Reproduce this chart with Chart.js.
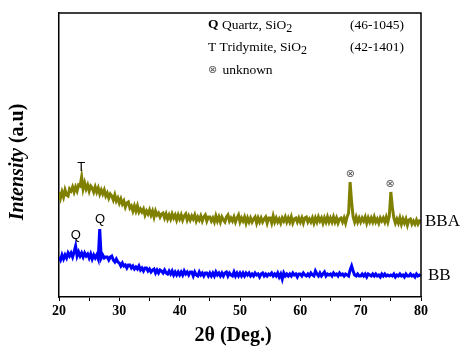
<!DOCTYPE html>
<html>
<head>
<meta charset="utf-8">
<script src="https://cdn.jsdelivr.net/npm/chart.js@4"></script>
<style>
  body { margin: 0; background: #fff; }
</style>
</head>
<body>
<canvas id="xrdChart" width="462" height="347"></canvas>
<script>
// scan grid: 2-theta from 20 to 80 deg, 0.25 deg step
const startAngle = 20
const stepAngle = 0.25

// BBA intensity (a.u.), one row = 5 deg
const bbaCounts = [
    105, 99, 105, 100, 107, 102, 101, 108, 106, 110, 105, 110, 106, 112, 111, 120, 108, 114, 108, 112,
    106, 111, 109, 105, 110, 105, 109, 103, 107, 103, 107, 101, 104, 99, 103, 101, 97, 102, 96, 99,
    94, 98, 93, 96, 90, 94, 95, 89, 91, 86, 91, 86, 91, 85, 88, 85, 88, 82, 86, 83,
    87, 82, 86, 80, 86, 82, 84, 80, 83, 84, 79, 83, 78, 82, 78, 83, 79, 82, 77, 82,
    78, 82, 77, 81, 83, 77, 81, 77, 81, 78, 82, 76, 80, 77, 81, 76, 80, 82, 76, 80,
    80, 76, 79, 75, 81, 76, 80, 75, 80, 77, 75, 80, 82, 76, 79, 76, 80, 75, 79, 82,
    75, 79, 76, 80, 74, 79, 75, 79, 75, 78, 80, 74, 79, 75, 79, 75, 78, 80, 74, 79,
    79, 74, 81, 75, 79, 75, 78, 74, 79, 76, 80, 75, 79, 75, 80, 74, 78, 79, 75, 79,
    75, 79, 74, 79, 80, 75, 78, 75, 79, 74, 79, 75, 80, 76, 79, 74, 79, 75, 80, 75,
    79, 75, 80, 75, 79, 74, 78, 79, 75, 79, 74, 80, 84, 115, 95, 80, 75, 80, 75, 79,
    75, 79, 76, 80, 74, 79, 75, 79, 75, 80, 75, 78, 74, 79, 76, 79, 75, 80, 75, 81,
    105, 90, 79, 74, 78, 74, 79, 73, 78, 74, 78, 72, 77, 78, 73, 76, 73, 77, 73, 76,
    75
]

// BB intensity (a.u.)
const bbCounts = [
    40, 37, 42, 38, 42, 39, 44, 41, 44, 40, 45, 51, 41, 45, 41, 44, 40, 44, 41, 43,
    39, 43, 38, 42, 39, 42, 38, 68, 39, 42, 39, 40, 40, 37, 40, 41, 37, 35, 38, 35,
    34, 31, 34, 31, 32, 29, 32, 32, 29, 31, 28, 30, 28, 31, 27, 29, 26, 29, 29, 26,
    28, 25, 27, 28, 24, 27, 24, 27, 26, 24, 27, 24, 23, 26, 23, 26, 22, 25, 22, 25,
    22, 25, 22, 26, 23, 25, 22, 25, 25, 21, 25, 22, 21, 25, 22, 24, 21, 24, 24, 21,
    24, 21, 24, 21, 25, 22, 24, 21, 24, 21, 24, 25, 21, 24, 22, 21, 25, 21, 24, 21,
    24, 21, 24, 21, 24, 22, 24, 21, 23, 21, 24, 22, 23, 20, 23, 24, 21, 23, 21, 23,
    22, 24, 21, 23, 21, 24, 20, 23, 18, 24, 21, 23, 21, 23, 21, 24, 22, 23, 20, 23,
    23, 21, 24, 22, 21, 23, 21, 24, 22, 21, 26, 23, 21, 24, 21, 23, 25, 21, 23, 22,
    23, 21, 24, 22, 23, 21, 24, 22, 23, 21, 23, 22, 21, 27, 31, 26, 22, 21, 23, 21,
    21, 23, 21, 23, 20, 23, 22, 21, 23, 21, 23, 21, 22, 20, 23, 21, 23, 21, 22, 21,
    22, 21, 23, 20, 22, 21, 23, 21, 22, 20, 23, 21, 21, 23, 21, 22, 20, 23, 21, 22,
    21
]

const seriesNames = ['BBA', 'BB']
const xTicks = [20, 30, 40, 50, 60, 70, 80]

const serif = "'Liberation Serif', 'Times New Roman', serif"
const sans = "'Liberation Sans', Arial, sans-serif"

const toPoints = (counts) => counts.map((v, i) => ({x: startAngle + i * stepAngle, y: v}))

// text, frame and peak marks
const decorations = {
    id: 'decorations',
    afterDraw(chart) {
        const {ctx, chartArea: a, scales: {x, y}} = chart
        ctx.save()

        ctx.strokeStyle = '#000'
        ctx.lineWidth = 1.5
        ctx.beginPath()
        ctx.moveTo(a.left, a.top)
        ctx.lineTo(a.right, a.top)
        ctx.lineTo(a.right, a.bottom)
        ctx.stroke()

        ctx.fillStyle = '#000'
        ctx.textBaseline = 'middle'

        // peak letters
        ctx.font = '13px ' + sans
        ctx.textAlign = 'center'
        ctx.fillText('T', x.getPixelForValue(23.7), y.getPixelForValue(130))
        ctx.fillText('Q', x.getPixelForValue(22.8), y.getPixelForValue(62))
        ctx.fillText('Q', x.getPixelForValue(26.8), y.getPixelForValue(78))

        ctx.fillStyle = '#555'
        ctx.font = '11px DejaVu Sans'
        ctx.fillText('⊗', x.getPixelForValue(68.3), y.getPixelForValue(123))
        ctx.fillText('⊗', x.getPixelForValue(74.9), y.getPixelForValue(113))

        // series names
        ctx.fillStyle = '#000'
        ctx.textAlign = 'left'
        ctx.font = '17px ' + serif
        ctx.fillText(seriesNames[0], a.right + 4, y.getPixelForValue(75))
        ctx.fillText(seriesNames[1], a.right + 7, y.getPixelForValue(21))

        // phase key
        const line = (parts, px, py) => {
            let cx = px
            parts.forEach(([txt, font, dy]) => {
                ctx.font = font
                ctx.fillText(txt, cx, py + dy)
                cx += ctx.measureText(txt).width
            })
        }
        const reg = '13.5px ' + serif
        const bold = 'bold 13.5px ' + serif
        const sub = '12px ' + serif
        line([['Q', bold, 0], [' Quartz, SiO', reg, 0], ['2', sub, 4]], 208, 25)
        line([['T Tridymite, SiO', reg, 0], ['2', sub, 4]], 208, 47)
        line([['(46-1045)', reg, 0]], 350, 25)
        line([['(42-1401)', reg, 0]], 350, 47)
        ctx.fillStyle = '#555'
        line([['⊗', '11px DejaVu Sans', 0]], 208, 70)
        ctx.fillStyle = '#000'
        line([[' unknown', reg, 0]], 219, 70)

        // axis titles
        ctx.textAlign = 'center'
        ctx.font = 'bold 20px ' + serif
        ctx.fillText('2θ (Deg.)', 233, 336)

        ctx.translate(18, 162)
        ctx.rotate(-Math.PI / 2)
        ctx.textAlign = 'left'
        const t1 = 'Intensity'
        const t2 = ' (a.u)'
        ctx.font = 'italic bold 20px ' + serif
        const w1 = ctx.measureText(t1).width
        ctx.font = 'bold 20px ' + serif
        const w2 = ctx.measureText(t2).width
        ctx.font = 'italic bold 20px ' + serif
        ctx.fillText(t1, -(w1 + w2) / 2, 0)
        ctx.font = 'bold 20px ' + serif
        ctx.fillText(t2, -(w1 + w2) / 2 + w1, 0)

        ctx.restore()
    }
}

const init = () => {
    const ctx = document.getElementById('xrdChart')

    new Chart(ctx, {
        type: 'line',
        data: {
            datasets: [
                {
                    label: seriesNames[0],
                    data: toPoints(bbaCounts),
                    borderColor: '#808000',
                    borderWidth: 3,
                    pointRadius: 0,
                    tension: 0,
                },
                {
                    label: seriesNames[1],
                    data: toPoints(bbCounts),
                    borderColor: '#0000ff',
                    borderWidth: 3,
                    pointRadius: 0,
                    tension: 0,
                }
            ]
        },
        options: {
            responsive: false,
            animation: false,
            layout: {
                padding: {top: 13, right: 41, left: 0, bottom: 0}
            },
            plugins: {
                legend: {display: false},
                tooltip: {enabled: false}
            },
            scales: {
                x: {
                    type: 'linear',
                    min: 20,
                    max: 80,
                    afterFit: (s) => { s.height = 50 },
                    ticks: {
                        stepSize: 5,
                        autoSkip: false,
                        maxRotation: 0,
                        padding: 2,
                        color: '#000',
                        font: {family: serif, size: 14, weight: 'bold'},
                        callback: (v) => xTicks.includes(v) ? String(v) : ''
                    },
                    grid: {
                        drawOnChartArea: false,
                        drawTicks: true,
                        tickLength: 4,
                        color: '#000'
                    },
                    border: {color: '#000', width: 1.5}
                },
                y: {
                    min: 0,
                    max: 284,
                    afterFit: (s) => { s.width = 59 },
                    ticks: {display: false},
                    grid: {display: false},
                    border: {color: '#000', width: 1.5}
                }
            }
        },
        plugins: [decorations]
    })
}

document.addEventListener('DOMContentLoaded', init)
</script>
</body>
</html>
